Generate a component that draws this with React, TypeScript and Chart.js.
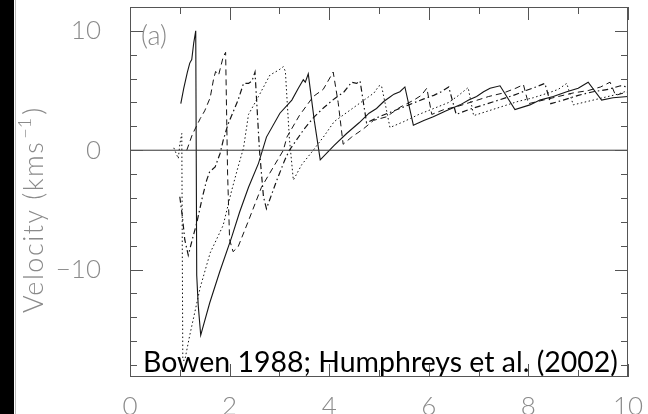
import React, { useEffect, useRef } from "react";
import { Chart, registerables } from "chart.js";
Chart.register(...registerables);

// ---- data (radius in R*, velocity in km/s) ----
const solidR = [1.02,1.08,1.15,1.2,1.24,1.28,1.32,1.34,1.37,1.42,1.6,1.8,2.04,2.2,2.38,2.58,2.74,3.01,3.25,3.38,3.48,3.52,3.58,3.7,3.82,4.1,4.35,4.6,4.8,4.95,5.1,5.2,5.3,5.42,5.52,5.69,5.9,6.09,6.35,6.63,6.8,6.96,7.1,7.23,7.43,7.73,8.03,8.23,8.5,8.77,9.0,9.2,9.47,9.7,10];
const solidV = [3.9,5.2,6.5,7.3,7.6,9.0,10.0,-10.5,-13,-15.5,-12.8,-10.2,-7.3,-5.2,-3.1,-1.1,1.1,3.1,4.2,5.2,5.9,5.7,6.4,2.5,-0.8,0.4,1.4,2.3,3.1,3.5,4.1,4.4,4.7,4.9,5.3,2.1,2.5,2.8,3.3,3.8,4.2,4.5,4.9,5.2,5.4,3.4,3.8,4.2,4.5,4.9,5.2,5.7,4.2,4.4,4.5];

const dashR = [1.14,1.25,1.41,1.5,1.61,1.68,1.72,1.78,1.81,1.87,1.92,1.96,2.0,2.07,2.17,2.38,2.64,2.88,3.08,3.15,3.4,3.68,3.88,3.95,4.08,4.18,4.28,4.45,4.69,4.89,5.15,5.42,5.7,5.85,5.96,6.06,6.3,6.6,6.9,7.2,7.5,7.75,7.9,8.0,8.3,8.6,8.9,9.2,9.45,9.64,9.75,10];
const dashV = [0,1.3,2.65,3.3,4.4,6.0,6.6,6.3,6.8,7.8,8.2,-2,-7.5,-8.5,-8.1,-5.9,-3.1,-1.4,0,1.1,2.9,4.5,5.1,5.6,6.55,4.0,0.5,1.1,1.8,2.5,2.8,3.6,4.2,4.6,5.2,3.0,3.4,3.7,4.1,4.5,4.8,5.2,5.5,3.9,4.2,4.5,4.8,5.0,5.3,5.7,4.6,4.9];

const dashDotR = [1.0,1.05,1.1,1.17,1.25,1.34,1.45,1.54,1.6,1.71,1.81,1.87,1.97,2.07,2.17,2.28,2.38,2.45,2.51,2.6,2.68,2.74,2.94,3.1,3.2,3.5,3.7,3.9,4.1,4.3,4.45,4.55,4.62,4.75,5.0,5.3,5.6,5.9,6.1,6.25,6.4,6.55,6.8,7.1,7.4,7.7,7.95,8.15,8.33,8.45,8.7,9.0,9.3,9.6,9.85,10];
const dashDotV = [-3.9,-5.5,-7.5,-8.8,-7.5,-6.1,-4.0,-2.5,-1.8,-1.4,-0.25,0.8,2.2,3.2,4.2,5.6,5.6,5.8,6.55,0,-3.9,-4.9,-2.6,-0.9,0,1.8,2.8,3.6,4.3,4.9,5.7,5.6,5.8,2.3,2.8,3.3,3.8,4.3,4.6,4.9,5.3,3.0,3.4,3.8,4.2,4.6,5.0,5.3,5.6,3.9,4.2,4.6,4.9,5.1,5.4,5.3];

const dotR = [0.88,0.97,1.0,1.04,1.06,1.1,1.2,1.41,1.61,1.87,2.04,2.17,2.28,2.38,2.58,2.81,2.98,3.08,3.12,3.2,3.28,3.45,3.68,3.9,4.1,4.3,4.5,4.7,4.9,5.0,5.05,5.12,5.22,5.5,5.8,6.1,6.4,6.6,6.79,6.9,7.2,7.5,7.8,8.1,8.4,8.6,8.77,8.9,9.2,9.5,9.8,10];
const dotV = [0.2,-0.7,0.5,1.4,-17.6,-17.6,-15.5,-11.5,-8.6,-6.3,-3.4,-1.4,0.2,3.0,4.5,6.3,6.7,7.0,6.6,1,-2.5,-1.2,0,1.2,2.4,3.0,3.6,4.2,4.8,5.4,5.4,4,1.9,2.4,3.0,3.5,4.0,4.6,5.25,2.9,3.3,3.7,4.1,4.4,4.8,5.1,5.6,3.8,4.1,4.4,4.7,5.0];

const zeroR = [0, 10];
const zeroV = [0, 0];

const xLabelTicks = [0, 2, 4, 6, 8, 10];
const yLabelTicks = [-10, 0, 10];
const xMinorTicks = [0,1,2,3,4,5,6,7,8,9,10];
const yMinorTicks = [-18,-16,-14,-12,-10,-8,-6,-4,-2,0,2,4,6,8,10];

const yTitle = "Velocity (kms";
const ySup = "\u22121";
const panelLabel = "(a)";
const citation = "Bowen 1988; Humphreys et al. (2002)";

const pts = (xs: number[], ys: number[]) => xs.map((x, i) => ({ x, y: ys[i] }));

const GREY = "#8a8a8a";
const LIGHT = "Lato, 'Open Sans', sans-serif";

const decor = {
  id: "decor",
  beforeDraw(chart: any) {
    const { ctx, width, height } = chart;
    ctx.save();
    ctx.fillStyle = "#fff";
    ctx.fillRect(0, 0, width, height);
    ctx.restore();
  },
  afterDraw(chart: any) {
    const { ctx, chartArea: a, scales } = chart;
    const xs = scales.x, ys = scales.y;
    ctx.save();
    // left scan bar
    ctx.fillStyle = "#000";
    ctx.fillRect(0, 0, 14, chart.height);
    ctx.fillStyle = "#bbb";
    ctx.fillRect(15, 0, 1, chart.height);

    // citation
    ctx.fillStyle = "#000";
    ctx.textAlign = "left";
    ctx.textBaseline = "alphabetic";
    let fs = 28;
    ctx.font = `400 ${fs}px Lato`;
    const w = ctx.measureText(citation).width;
    fs = fs * 475 / w;
    ctx.font = `400 ${fs}px Lato`;
    ctx.fillText(citation, 143, 372);

    // frame
    ctx.strokeStyle = "#555";
    ctx.lineWidth = 1;
    ctx.strokeRect(a.left + 0.5, a.top + 0.5, a.right - a.left - 1, a.bottom - a.top - 1);
    ctx.beginPath();
    for (const v of xMinorTicks) {
      const px = Math.round(xs.getPixelForValue(v)) + 0.5;
      const len = v % 2 === 0 ? 13 : 7;
      ctx.moveTo(px, a.bottom); ctx.lineTo(px, a.bottom - len);
      ctx.moveTo(px, a.top); ctx.lineTo(px, a.top + len);
    }
    for (const v of yMinorTicks) {
      const py = Math.round(ys.getPixelForValue(v)) + 0.5;
      const len = v % 10 === 0 ? 13 : 7;
      ctx.moveTo(a.left, py); ctx.lineTo(a.left + len, py);
      ctx.moveTo(a.right, py); ctx.lineTo(a.right - len, py);
    }
    ctx.stroke();

    // panel label
    ctx.fillStyle = GREY;
    ctx.font = `300 27px ${LIGHT}`;
    ctx.fillText(panelLabel, 141, 45);

    // y title (rotated)
    ctx.translate(43, 313);
    ctx.rotate(-Math.PI / 2);
    (ctx as any).letterSpacing = "1.5px";
    ctx.font = `300 27px ${LIGHT}`;
    ctx.fillText(yTitle, 0, 0);
    const w1 = ctx.measureText(yTitle).width;
    (ctx as any).letterSpacing = "0px";
    ctx.font = `300 18px ${LIGHT}`;
    ctx.fillText(ySup, w1 + 2, -12);
    const w2 = ctx.measureText(ySup).width;
    ctx.font = `300 27px ${LIGHT}`;
    ctx.fillText(")", w1 + w2 + 5, 0);
    ctx.restore();
  },
};

export default function App() {
  const ref = useRef<HTMLCanvasElement>(null);
  useEffect(() => {
    const line = (xs: number[], ys: number[], dash: number[], width = 1) => ({
      data: pts(xs, ys),
      borderColor: "#151515",
      borderWidth: width,
      borderDash: dash,
      pointRadius: 0,
      tension: 0,
      fill: false,
    });
    const chart = new Chart(ref.current!, {
      type: "line",
      data: {
        datasets: [
          { ...line(zeroR, zeroV, [], 1), borderColor: "#333" },
          line(solidR, solidV, [], 1.1),
          line(dashR, dashV, [6, 4], 1),
          line(dashDotR, dashDotV, [6, 3, 1.5, 3], 1.2),
          line(dotR, dotV, [1.5, 2.5], 1),
        ] as any,
      },
      options: {
        animation: false,
        responsive: false,
        devicePixelRatio: 1,
        layout: { padding: { top: 7, right: 20, left: 0, bottom: 0 } },
        plugins: { legend: { display: false }, tooltip: { enabled: false } },
        scales: {
          x: {
            type: "linear",
            min: 0,
            max: 10,
            grid: { display: false },
            border: { display: false },
            afterBuildTicks: (s: any) => { s.ticks = xLabelTicks.map((v) => ({ value: v })); },
            afterFit: (s: any) => { s.height = 37; s.paddingLeft = 0; s.paddingRight = 0; },
            ticks: {
              color: GREY,
              padding: 6,
              maxRotation: 0,
              font: { family: LIGHT, size: 26, weight: "300" as any },
            },
          },
          y: {
            type: "linear",
            min: -19,
            max: 12,
            grid: { display: false },
            border: { display: false },
            afterBuildTicks: (s: any) => { s.ticks = yLabelTicks.map((v) => ({ value: v })); },
            afterFit: (s: any) => { s.width = 130; s.paddingTop = 0; s.paddingBottom = 0; },
            ticks: {
              color: GREY,
              padding: 21,
              font: { family: LIGHT, size: 26, weight: "300" as any },
              callback: (v: any) => (Number(v) < 0 ? "\u2212" + Math.abs(Number(v)) : String(v)),
            },
          },
        },
      },
      plugins: [decor],
    });
    return () => chart.destroy();
  }, []);
  return (
    <div style={{ position: "absolute", left: 0, top: 0, width: 648, height: 414, background: "#fff" }}>
      <canvas ref={ref} width={648} height={414} style={{ display: "block" }} />
    </div>
  );
}
